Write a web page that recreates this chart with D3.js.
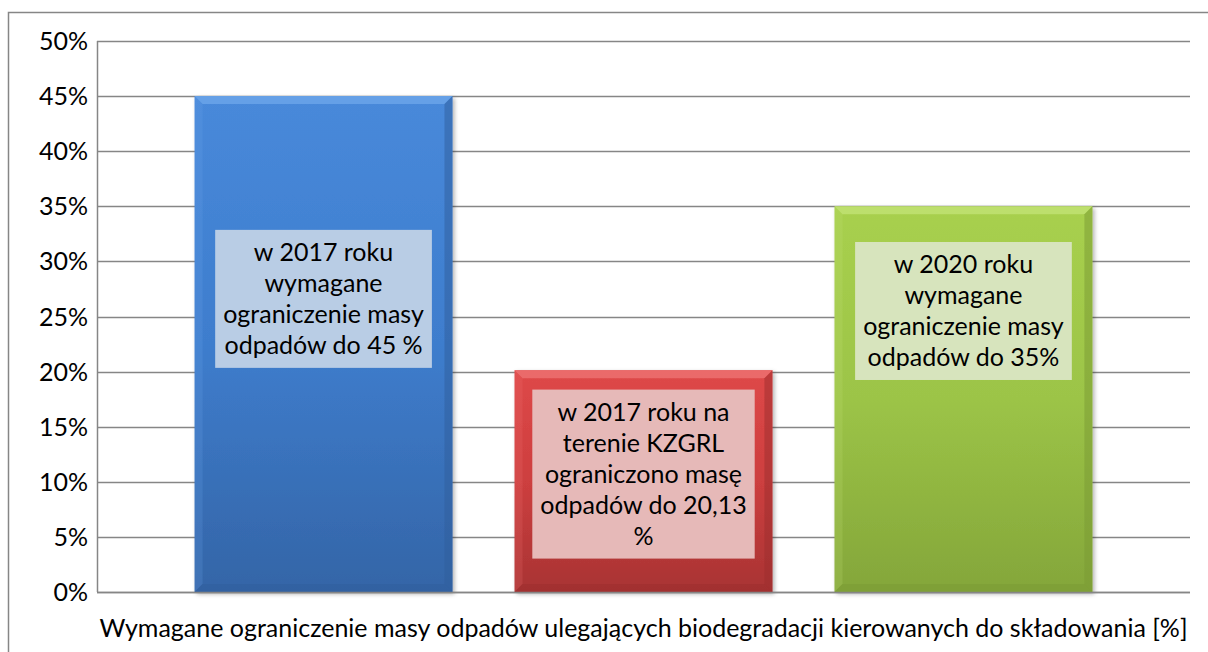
<!DOCTYPE html>
<html>
<head>
<meta charset="utf-8">
<script src="https://cdn.jsdelivr.net/npm/d3@7"></script>
<style>
  body { margin: 0; background: #fff; }
  svg text { font-family: Lato, "Open Sans", sans-serif; fill: #000; }
</style>
</head>
<body>
<div id="app"></div>
<script>
const series = ["2017 wymagane", "2017 KZGRL", "2020 wymagane"];
const values = [45, 20.13, 35];
const category = "Wymagane ograniczenie masy odpadów ulegających biodegradacji kierowanych do składowania [%]";
const yTicks = [0, 5, 10, 15, 20, 25, 30, 35, 40, 45, 50];
const labelLines = [
  ["w 2017 roku", "wymagane", "ograniczenie masy", "odpadów do 45 %"],
  ["w 2017 roku na", "terenie KZGRL", "ograniczono masę", "odpadów do 20,13", "%"],
  ["w 2020 roku", "wymagane", "ograniczenie masy", "odpadów do 35%"]
];
// where the middle of each label sits, in % of the y axis
const labelAt = [26.6, 10.7, 25.5];

const barColors = [
  { top: "#4889da", mid: "#3e7dcd", bot: "#3465a7", light: "#6da6ea", dark: "#2f5d9c", box: "#b9cde5" },
  { top: "#de4848", mid: "#cd3f3f", bot: "#a83333", light: "#ee7373", dark: "#9c2e2e", box: "#e6b9b8" },
  { top: "#a8d04e", mid: "#9cc447", bot: "#84a63a", light: "#c2e276", dark: "#7a9a34", box: "#d7e4bd" }
];

const W = 1208, H = 652;
const plot = { left: 97, right: 1190, top: 41, bottom: 592 };
const fontSize = 25;

const svg = d3.select("#app").append("svg")
  .attr("width", W).attr("height", H);

const defs = svg.append("defs");

// outer chart border
svg.append("rect")
  .attr("x", 8.5).attr("y", 12.5)
  .attr("width", W + 20).attr("height", H + 20)
  .attr("fill", "none").attr("stroke", "#868686").attr("stroke-width", 1.5);

const y = d3.scaleLinear().domain([0, 50]).range([plot.bottom, plot.top]);

const x0 = d3.scaleBand().domain([category])
  .range([plot.left, plot.right]).padding(0);

const x1 = d3.scaleBand().domain(series)
  .range([x0(category), x0(category) + x0.bandwidth()])
  .paddingInner(0.194).paddingOuter(0.305);

// gridlines
svg.append("g")
  .selectAll("line")
  .data(yTicks)
  .enter().append("line")
  .attr("x1", plot.left).attr("x2", plot.right)
  .attr("y1", (d) => Math.round(y(d)) + 0.5)
  .attr("y2", (d) => Math.round(y(d)) + 0.5)
  .attr("stroke", "#868686").attr("stroke-width", 1.5);

// left axis line
svg.append("line")
  .attr("x1", plot.left + 0.5).attr("x2", plot.left + 0.5)
  .attr("y1", plot.top).attr("y2", plot.bottom)
  .attr("stroke", "#868686").attr("stroke-width", 1.5);

// tick labels
svg.append("g")
  .selectAll("text")
  .data(yTicks)
  .enter().append("text")
  .attr("x", 88)
  .attr("y", (d) => y(d))
  .attr("dy", "0.36em")
  .attr("text-anchor", "end")
  .attr("font-size", fontSize)
  .text((d) => d + "%");

// gradients
barColors.forEach((c, i) => {
  const g = defs.append("linearGradient")
    .attr("id", "grad" + i).attr("x1", 0).attr("x2", 0).attr("y1", 0).attr("y2", 1);
  g.append("stop").attr("offset", "0%").attr("stop-color", c.top);
  g.append("stop").attr("offset", "50%").attr("stop-color", c.mid);
  g.append("stop").attr("offset", "100%").attr("stop-color", c.bot);
});

const filter = defs.append("filter").attr("id", "shadow")
  .attr("x", "-5%").attr("y", "-5%").attr("width", "115%").attr("height", "115%");
filter.append("feDropShadow")
  .attr("dx", 2).attr("dy", 2).attr("stdDeviation", 2)
  .attr("flood-color", "#000").attr("flood-opacity", 0.3);

const bev = 8;
const bars = svg.append("g")
  .selectAll("g")
  .data(values)
  .enter().append("g")
  .attr("class", "bar");

bars.append("rect")
  .attr("x", (d, i) => x1(series[i]))
  .attr("y", (d) => y(d))
  .attr("width", x1.bandwidth())
  .attr("height", (d) => y(0) - y(d))
  .attr("fill", (d, i) => "url(#grad" + i + ")")
  .attr("filter", "url(#shadow)");

// bevel: top light edge
bars.append("polygon")
  .attr("points", (d, i) => {
    const xa = x1(series[i]), xb = xa + x1.bandwidth(), ya = y(d);
    return [[xa, ya], [xb, ya], [xb - bev, ya + bev], [xa + bev, ya + bev]].join(" ");
  })
  .attr("fill", (d, i) => barColors[i].light)
  .attr("opacity", 0.8);

// bevel: left edge
bars.append("polygon")
  .attr("points", (d, i) => {
    const xa = x1(series[i]), ya = y(d), yb = y(0);
    return [[xa, ya], [xa + bev, ya + bev], [xa + bev, yb - bev], [xa, yb]].join(" ");
  })
  .attr("fill", (d, i) => barColors[i].light)
  .attr("opacity", 0.2);

// bevel: right edge
bars.append("polygon")
  .attr("points", (d, i) => {
    const xb = x1(series[i]) + x1.bandwidth(), ya = y(d), yb = y(0);
    return [[xb, ya], [xb - bev, ya + bev], [xb - bev, yb - bev], [xb, yb]].join(" ");
  })
  .attr("fill", (d, i) => barColors[i].dark)
  .attr("opacity", 0.5);

// bevel: bottom edge
bars.append("polygon")
  .attr("points", (d, i) => {
    const xa = x1(series[i]), xb = xa + x1.bandwidth(), yb = y(0);
    return [[xa, yb], [xa + bev, yb - bev], [xb - bev, yb - bev], [xb, yb]].join(" ");
  })
  .attr("fill", (d, i) => barColors[i].dark)
  .attr("opacity", 0.5);

// baseline
svg.append("line")
  .attr("x1", plot.left).attr("x2", plot.right)
  .attr("y1", Math.round(y(0)) + 0.5).attr("y2", Math.round(y(0)) + 0.5)
  .attr("stroke", "#868686").attr("stroke-width", 1.5);

// data labels
const lineH = 31;
const labels = svg.append("g")
  .selectAll("g")
  .data(labelLines)
  .enter().append("g");

labels.each(function (lines, i) {
  const g = d3.select(this);
  const cx = x1(series[i]) + x1.bandwidth() / 2;
  const cy = y(labelAt[i]);
  const boxRect = g.append("rect").attr("fill", barColors[i].box);
  const t = g.append("text")
    .attr("text-anchor", "middle")
    .attr("font-size", fontSize);
  lines.forEach((ln, k) => {
    t.append("tspan")
      .attr("x", cx)
      .attr("y", cy + (k - (lines.length - 1) / 2) * lineH)
      .attr("dy", "0.36em")
      .text(ln);
  });
  const bb = t.node().getBBox();
  const bw = bb.width + 16;
  const bh = lines.length * lineH + 14;
  boxRect.attr("x", cx - bw / 2).attr("y", cy - bh / 2)
    .attr("width", bw).attr("height", bh);
});

// category label
svg.append("text")
  .attr("x", x0(category) + x0.bandwidth() / 2)
  .attr("y", 628)
  .attr("dy", "0.36em")
  .attr("text-anchor", "middle")
  .attr("font-size", fontSize)
  .text(category);
</script>
</body>
</html>
